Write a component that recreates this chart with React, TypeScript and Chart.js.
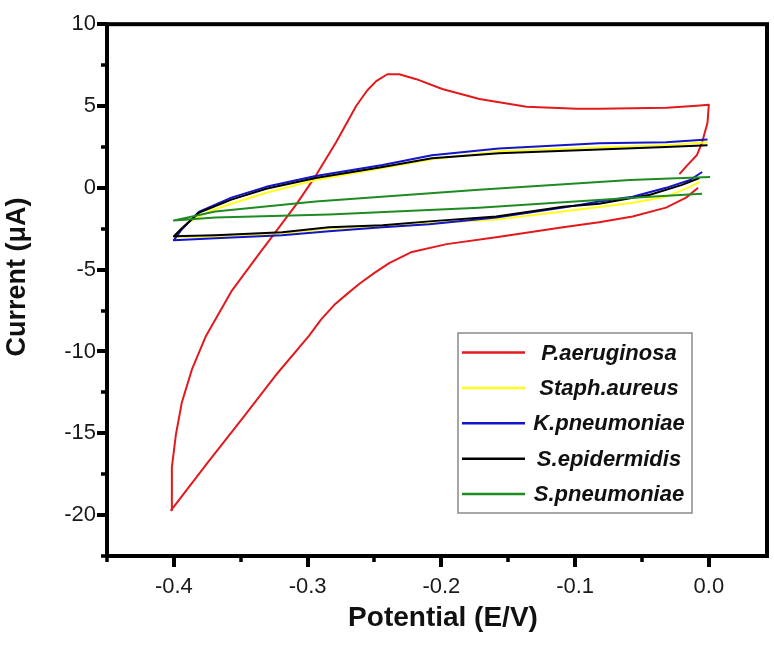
import React, { useEffect, useRef } from 'react';
import { Chart, registerables } from 'chart.js';

Chart.register(...registerables);

// ---- Data ----
const seriesNames = ['P.aeruginosa', 'Staph.aureus', 'K.pneumoniae', 'S.epidermidis', 'S.pneumoniae'];
const seriesColors = ['#e3191c', '#ffff1a', '#1414c8', '#000000', '#1e8c23'];

const paerPotential = [-0.008, -0.017, -0.032, -0.057, -0.082, -0.109, -0.159, -0.196, -0.222, -0.239, -0.250, -0.261, -0.270, -0.280, -0.290, -0.299, -0.324, -0.349, -0.374, -0.402,
  -0.4015, -0.3985, -0.394, -0.3865, -0.376, -0.3663, -0.3566, -0.3363, -0.3236, -0.3086, -0.2936, -0.2787, -0.2637, -0.2555, -0.2487, -0.2404, -0.2315, -0.2187, -0.1993, -0.1715, -0.1363, -0.0989, -0.0816, -0.0315, -0.009, 0.000,
  -0.001, -0.005, -0.009, -0.016, -0.022];
const paerCurrent = [0.0, -0.60, -1.21, -1.75, -2.11, -2.41, -3.02, -3.44, -3.92, -4.60, -5.20, -5.85, -6.45, -7.15, -8.05, -9.05, -11.47, -14.12, -16.72, -19.7,
  -17.08, -15.09, -13.10, -11.10, -9.05, -7.66, -6.28, -4.04, -2.66, -1.03, 0.78, 2.78, 5.00, 5.95, 6.52, 6.94, 6.94, 6.64, 6.04, 5.43, 4.95, 4.83, 4.83, 4.89, 5.01, 5.07,
  3.98, 2.78, 1.99, 1.39, 0.84];

const staphPotential = [-0.007, -0.014, -0.032, -0.057, -0.097, -0.159, -0.209, -0.244, -0.284, -0.319, -0.369, -0.400,
  -0.389, -0.374, -0.357, -0.331, -0.294, -0.244, -0.207, -0.157, -0.082, -0.032, -0.001];
const staphCurrent = [0.36, 0.06, -0.54, -0.91, -1.33, -1.93, -2.17, -2.35, -2.47, -2.78, -2.96, -3.02,
  -2.11, -1.45, -0.97, -0.30, 0.48, 1.21, 1.75, 2.23, 2.47, 2.60, 2.78];

const kpneuPotential = [-0.005, -0.014, -0.032, -0.057, -0.082, -0.109, -0.159, -0.209, -0.244, -0.284, -0.319, -0.369, -0.400,
  -0.394, -0.381, -0.357, -0.331, -0.294, -0.244, -0.207, -0.157, -0.082, -0.032, -0.001];
const kpneuCurrent = [0.97, 0.48, 0.0, -0.54, -0.84, -1.21, -1.81, -2.23, -2.41, -2.66, -2.90, -3.08, -3.20,
  -2.53, -1.45, -0.60, 0.06, 0.72, 1.39, 1.99, 2.41, 2.72, 2.78, 2.96];

const sepiPotential = [-0.007, -0.020, -0.044, -0.082, -0.109, -0.159, -0.209, -0.244, -0.284, -0.319, -0.369, -0.400,
  -0.394, -0.381, -0.357, -0.331, -0.294, -0.244, -0.207, -0.157, -0.082, -0.032, -0.001];
const sepiCurrent = [0.60, 0.18, -0.42, -0.97, -1.15, -1.75, -2.05, -2.29, -2.41, -2.72, -2.90, -2.96,
  -2.47, -1.51, -0.72, -0.06, 0.60, 1.27, 1.81, 2.11, 2.35, 2.50, 2.60];

const spneuPotential = [-0.005, -0.057, -0.172, -0.284, -0.369, -0.400, -0.369, -0.294, -0.172, -0.059, 0.001];
const spneuCurrent = [-0.36, -0.60, -1.21, -1.63, -1.81, -1.99, -1.45, -0.84, -0.12, 0.48, 0.66];

const potentialSeries = [paerPotential, staphPotential, kpneuPotential, sepiPotential, spneuPotential];
const currentSeries = [paerCurrent, staphCurrent, kpneuCurrent, sepiCurrent, spneuCurrent];

const xMajorTicks = [-0.4, -0.3, -0.2, -0.1, 0.0];
const xMinorTicks = [-0.45, -0.35, -0.25, -0.15, -0.05];
const yMajorTicks = [-20, -15, -10, -5, 0, 5, 10];
const yMinorTicks = [-22.5, -17.5, -12.5, -7.5, -2.5, 2.5, 7.5];

const xTitle = 'Potential (E/V)';
const yTitle = 'Current (\u03bcA)';

const FONT = '"Liberation Sans", Arial, Helvetica, sans-serif';

const framePlugin = {
  id: 'originFrame',
  afterDatasetsDraw(chart: any) {
    const { ctx, chartArea, scales } = chart;
    const { left, right, top, bottom } = chartArea;
    const xs = scales.x;
    const ys = scales.y;
    ctx.save();
    ctx.strokeStyle = '#000';
    ctx.lineCap = 'butt';
    ctx.lineWidth = 4;
    xMajorTicks.forEach((v) => {
      const px = Math.round(xs.getPixelForValue(v));
      ctx.beginPath(); ctx.moveTo(px, bottom); ctx.lineTo(px, bottom + 11); ctx.stroke();
    });
    yMajorTicks.forEach((v) => {
      const py = Math.round(ys.getPixelForValue(v));
      ctx.beginPath(); ctx.moveTo(left, py); ctx.lineTo(left - 10, py); ctx.stroke();
    });
    ctx.lineWidth = 3.5;
    xMinorTicks.forEach((v) => {
      const px = Math.round(xs.getPixelForValue(v));
      ctx.beginPath(); ctx.moveTo(px, bottom); ctx.lineTo(px, bottom + 6); ctx.stroke();
    });
    yMinorTicks.forEach((v) => {
      const py = Math.round(ys.getPixelForValue(v));
      ctx.beginPath(); ctx.moveTo(left, py); ctx.lineTo(left - 6, py); ctx.stroke();
    });
    ctx.lineWidth = 4;
    ctx.strokeRect(left, top, right - left, bottom - top);

    // axis titles
    ctx.fillStyle = '#111';
    ctx.font = `bold 28px ${FONT}`;
    ctx.textAlign = 'center';
    ctx.textBaseline = 'middle';
    ctx.fillText(xTitle, 443, 618);
    ctx.font = `bold 27px ${FONT}`;
    ctx.save();
    ctx.translate(18, 277);
    ctx.rotate(-Math.PI / 2);
    ctx.fillText(yTitle, 0, 0);
    ctx.restore();

    // legend
    const lx = 458, ly = 333, lw = 234, lh = 180;
    ctx.fillStyle = '#fff';
    ctx.fillRect(lx, ly, lw, lh);
    ctx.strokeStyle = '#8a8a8a';
    ctx.lineWidth = 1.5;
    ctx.strokeRect(lx, ly, lw, lh);
    ctx.font = `italic bold 22px ${FONT}`;
    ctx.textAlign = 'center';
    ctx.textBaseline = 'middle';
    chart.data.datasets.forEach((ds: any, i: number) => {
      const y = 352.5 + i * 35.4;
      ctx.strokeStyle = ds.borderColor;
      ctx.lineWidth = 2.5;
      ctx.beginPath(); ctx.moveTo(462, y); ctx.lineTo(525, y); ctx.stroke();
      ctx.fillStyle = '#111';
      ctx.fillText(ds.label, 609, y + 1);
    });
    ctx.restore();
  },
};

export default function App() {
  const ref = useRef<HTMLCanvasElement | null>(null);
  useEffect(() => {
    if (!ref.current) return;
    const datasets = seriesNames.map((name, i) => ({
      label: name,
      data: potentialSeries[i].map((x, j) => ({ x, y: currentSeries[i][j] })),
      borderColor: seriesColors[i],
      backgroundColor: seriesColors[i],
      borderWidth: 2,
      showLine: true,
      fill: false,
      pointRadius: 0,
      tension: 0,
      borderJoinStyle: 'round' as const,
      order: seriesNames.length - i,
    }));
    const chart = new Chart(ref.current, {
      type: 'scatter',
      data: { datasets },
      options: {
        animation: false,
        responsive: false,
        devicePixelRatio: 1,
        layout: { padding: { top: 17, right: 7, left: 0, bottom: 0 } },
        plugins: { legend: { display: false }, tooltip: { enabled: false } },
        scales: {
          x: {
            type: 'linear',
            min: -0.45,
            max: 0.0435,
            grid: { display: false, drawTicks: false },
            border: { display: false },
            ticks: {
              padding: 18,
              color: '#1a1a1a',
              font: { family: FONT, size: 22 },
              callback: (v: any) => Number(v).toFixed(1),
            },
            afterBuildTicks: (s: any) => { s.ticks = xMajorTicks.map((v) => ({ value: v })); },
            afterFit: (s: any) => { s.height = 90; },
          },
          y: {
            type: 'linear',
            min: -22.5,
            max: 10,
            grid: { display: false, drawTicks: false },
            border: { display: false },
            ticks: {
              padding: 11,
              color: '#1a1a1a',
              font: { family: FONT, size: 22 },
              callback: (v: any) => String(v),
            },
            afterBuildTicks: (s: any) => { s.ticks = yMajorTicks.map((v) => ({ value: v })); },
            afterFit: (s: any) => { s.width = 107; },
          },
        },
      },
      plugins: [framePlugin],
    });
    return () => chart.destroy();
  }, []);
  return (
    <div style={{ position: 'fixed', left: 0, top: 0, width: 774, height: 646, background: '#fff' }}>
      <canvas ref={ref} width={774} height={646} />
    </div>
  );
}
